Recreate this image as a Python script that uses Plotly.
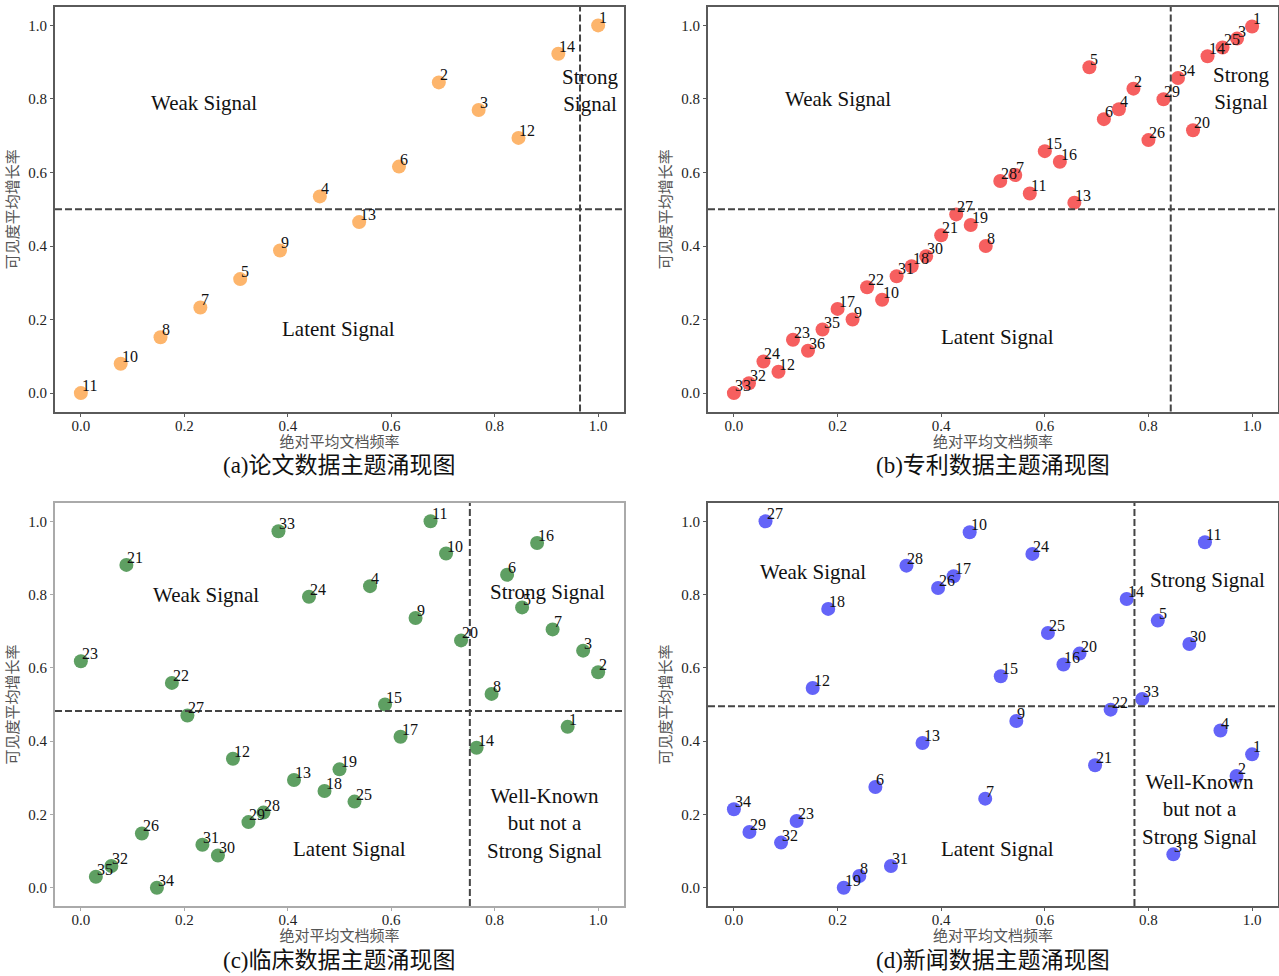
import plotly.graph_objects as go

# ---------------- data ----------------
# (a) 论文数据
a_labels = ["11", "10", "8", "7", "5", "9", "4", "13", "6", "2", "3", "12", "14", "1"]
a_x = [0.0, 0.077, 0.154, 0.231, 0.308, 0.385, 0.462, 0.538, 0.615, 0.692, 0.769, 0.846, 0.923, 1.0]
a_y = [0.0, 0.080, 0.152, 0.233, 0.310, 0.388, 0.535, 0.465, 0.616, 0.845, 0.770, 0.694, 0.923, 1.0]
a_vline, a_hline = 0.965, 0.50

# (b) 专利数据
b_labels = ["33", "32", "24", "12", "23", "36", "35", "17", "9", "22", "10", "31", "18", "30",
            "21", "27", "19", "8", "28", "7", "11", "15", "16", "13", "5", "6", "4", "2",
            "26", "29", "34", "20", "14", "25", "3", "1"]
b_x = [0.0, 0.029, 0.057, 0.086, 0.114, 0.143, 0.171, 0.200, 0.229, 0.257, 0.286, 0.314,
       0.343, 0.371, 0.400, 0.429, 0.457, 0.486, 0.514, 0.543, 0.571, 0.600, 0.629, 0.657,
       0.686, 0.714, 0.743, 0.771, 0.800, 0.829, 0.857, 0.886, 0.914, 0.943, 0.971, 1.0]
b_y = [0.0, 0.027, 0.086, 0.058, 0.145, 0.115, 0.173, 0.229, 0.200, 0.288, 0.254, 0.318,
       0.345, 0.372, 0.429, 0.486, 0.457, 0.400, 0.577, 0.593, 0.543, 0.658, 0.629, 0.518,
       0.886, 0.745, 0.772, 0.828, 0.688, 0.799, 0.857, 0.715, 0.916, 0.940, 0.964, 0.997]
b_vline, b_hline = 0.843, 0.50

# (c) 临床数据
c_labels = ["23", "35", "32", "21", "26", "34", "22", "27", "31", "30", "12", "29", "28",
            "33", "13", "24", "18", "19", "25", "4", "15", "17", "9", "11", "10", "20",
            "14", "8", "6", "5", "16", "7", "1", "3", "2"]
c_x = [0.0, 0.029, 0.059, 0.088, 0.118, 0.147, 0.176, 0.206, 0.235, 0.265, 0.294, 0.324,
       0.353, 0.382, 0.412, 0.441, 0.471, 0.500, 0.529, 0.559, 0.588, 0.618, 0.647, 0.676,
       0.706, 0.735, 0.765, 0.794, 0.824, 0.853, 0.882, 0.912, 0.941, 0.971, 1.0]
c_y = [0.618, 0.030, 0.059, 0.881, 0.148, 0.0, 0.559, 0.470, 0.117, 0.088, 0.352, 0.179,
       0.205, 0.973, 0.294, 0.794, 0.264, 0.323, 0.235, 0.823, 0.500, 0.412, 0.736, 1.0,
       0.912, 0.675, 0.382, 0.529, 0.854, 0.765, 0.941, 0.705, 0.439, 0.647, 0.588]
c_vline, c_hline = 0.752, 0.482

# (d) 新闻数据
d_labels = ["34", "29", "27", "32", "23", "12", "18", "19", "8", "6", "31", "28", "13",
            "26", "17", "10", "7", "15", "9", "24", "25", "16", "20", "21", "22", "14",
            "33", "5", "3", "30", "11", "4", "2", "1"]
d_x = [0.0, 0.030, 0.061, 0.091, 0.121, 0.152, 0.182, 0.212, 0.242, 0.273, 0.303, 0.333,
       0.364, 0.394, 0.424, 0.455, 0.485, 0.515, 0.545, 0.576, 0.606, 0.636, 0.667, 0.697,
       0.727, 0.758, 0.788, 0.818, 0.848, 0.879, 0.909, 0.939, 0.970, 1.0]
d_y = [0.214, 0.152, 1.0, 0.123, 0.182, 0.545, 0.761, 0.0, 0.032, 0.275, 0.059, 0.879,
       0.395, 0.818, 0.850, 0.970, 0.243, 0.577, 0.455, 0.911, 0.695, 0.609, 0.639, 0.334,
       0.486, 0.788, 0.515, 0.729, 0.091, 0.665, 0.943, 0.429, 0.305, 0.364]
d_vline, d_hline = 0.773, 0.495

tick_vals = [0.0, 0.2, 0.4, 0.6, 0.8, 1.0]
tick_text = ["0.0", "0.2", "0.4", "0.6", "0.8", "1.0"]
x_title = "绝对平均文档频率"
y_title = "可见度平均增长率"

panels = [
    dict(lab=a_labels, x=a_x, y=a_y, vl=a_vline, hl=a_hline, color="#FDB56C",
         caption="(a)论文数据主题涌现图", line="#5a5a5a",
         regions=[("Weak Signal", 0.239, 0.79), ("Latent Signal", 0.498, 0.174),
                  ("Strong<br>Signal", 0.986, 0.823)]),
    dict(lab=b_labels, x=b_x, y=b_y, vl=b_vline, hl=b_hline, color="#F65F5F",
         caption="(b)专利数据主题涌现图", line="#5a5a5a",
         regions=[("Weak Signal", 0.20, 0.80), ("Latent Signal", 0.508, 0.152),
                  ("Strong<br>Signal", 0.979, 0.829)]),
    dict(lab=c_labels, x=c_x, y=c_y, vl=c_vline, hl=c_hline, color="#5E9F62",
         caption="(c)临床数据主题涌现图", line="#aaaaaa",
         regions=[("Weak Signal", 0.241, 0.798), ("Strong Signal", 0.902, 0.807),
                  ("Latent Signal", 0.519, 0.106),
                  ("Well-Known<br>but not a<br>Strong Signal", 0.896, 0.174)]),
    dict(lab=d_labels, x=d_x, y=d_y, vl=d_vline, hl=d_hline, color="#6464F8",
         caption="(d)新闻数据主题涌现图", line="#5a5a5a",
         regions=[("Weak Signal", 0.153, 0.861), ("Strong Signal", 0.913, 0.839),
                  ("Latent Signal", 0.508, 0.106),
                  ("Well-Known<br>but not a<br>Strong Signal", 0.898, 0.213)]),
]

W, H = 1279, 976
xdoms = [[55 / W, 624 / W], [708 / W, 1278 / W], [55 / W, 624 / W], [708 / W, 1278 / W]]
ydoms = [[1 - 411.5 / H, 1 - 7 / H], [1 - 411.5 / H, 1 - 7 / H],
         [1 - 906 / H, 1 - 503 / H], [1 - 906 / H, 1 - 503 / H]]

SERIF = "Liberation Serif, Times New Roman, serif"
CJK = "Liberation Serif, Noto Sans CJK SC, serif"

fig = go.Figure()
annotations = []
shapes = []
layout = {}

for i, p in enumerate(panels):
    n = "" if i == 0 else str(i + 1)
    xa, ya = "x" + n, "y" + n
    fig.add_trace(go.Scatter(
        x=p["x"], y=p["y"], mode="markers", xaxis=xa, yaxis=ya,
        marker=dict(size=14, color=p["color"], line=dict(width=0)),
        hoverinfo="skip", showlegend=False))
    axcommon = dict(range=[-0.05, 1.05], tickvals=tick_vals, ticktext=tick_text,
                    showgrid=False, zeroline=False, showline=True, mirror=True,
                    linecolor=p["line"], linewidth=2, ticks="outside", ticklen=3,
                    tickwidth=1, tickcolor=p["line"],
                    tickfont=dict(family=SERIF, size=15, color="#222222"))
    layout["xaxis" + n] = dict(axcommon, domain=xdoms[i], anchor=ya, ticklabelstandoff=-4,
                               title=dict(text=x_title, standoff=3,
                                          font=dict(family=CJK, size=15, color="#555555")))
    layout["yaxis" + n] = dict(axcommon, domain=ydoms[i], anchor=xa,
                               title=dict(text=y_title, standoff=6,
                                          font=dict(family=CJK, size=15, color="#555555")))
    # point labels
    for lab, xv, yv in zip(p["lab"], p["x"], p["y"]):
        annotations.append(dict(x=xv, y=yv, xref=xa, yref=ya, text=lab, showarrow=False,
                                xanchor="left", yanchor="bottom", xshift=-1, yshift=-3,
                                font=dict(family=SERIF, size=16, color="#111111")))
    # region labels
    for txt, xv, yv in p["regions"]:
        annotations.append(dict(x=xv, y=yv, xref=xa, yref=ya, text=txt, showarrow=False,
                                xanchor="center", yanchor="middle",
                                font=dict(family=SERIF, size=21, color="#111111")))
    # caption
    annotations.append(dict(x=sum(xdoms[i]) / 2, y=ydoms[i][0] - 54 / H, xref="paper",
                            yref="paper", text=p["caption"], showarrow=False,
                            xanchor="center", yanchor="middle",
                            font=dict(family=CJK, size=23, color="#111111")))
    # dashed threshold lines
    shapes.append(dict(type="line", xref=xa + " domain", yref=ya, x0=0, x1=1,
                       y0=p["hl"], y1=p["hl"],
                       line=dict(color="#444444", width=2, dash="7px,3px")))
    shapes.append(dict(type="line", xref=xa, yref=ya + " domain", x0=p["vl"], x1=p["vl"],
                       y0=0, y1=1, line=dict(color="#444444", width=2, dash="7px,3px")))

fig.update_layout(
    width=W, height=H, margin=dict(l=0, r=0, t=0, b=0),
    paper_bgcolor="white", plot_bgcolor="white",
    annotations=annotations, shapes=shapes, **layout)

fig.write_html("out.html")
